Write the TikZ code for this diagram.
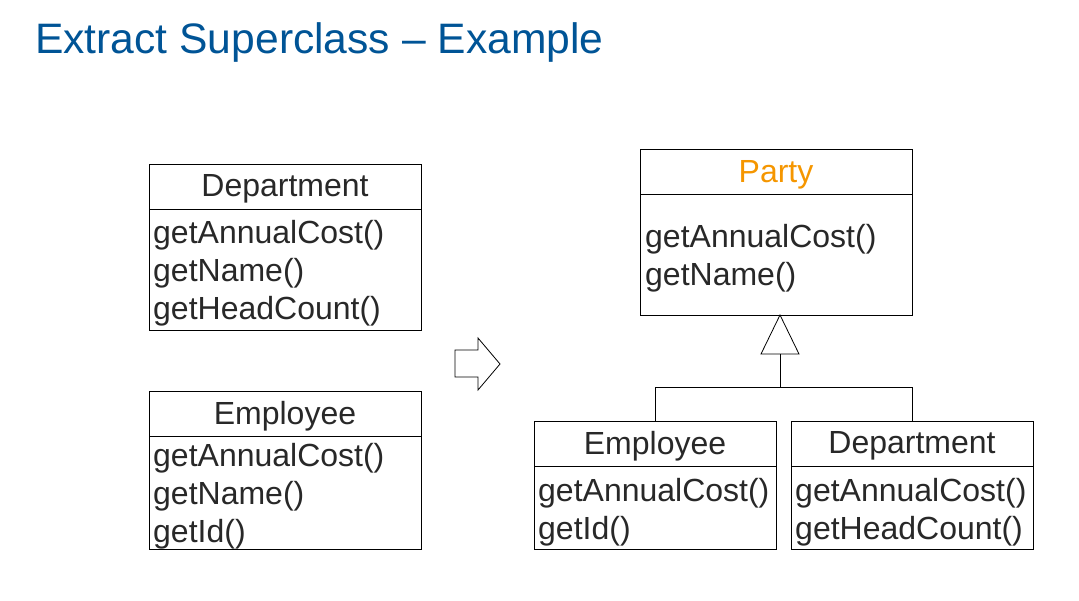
\documentclass[tikz,border=0pt]{standalone}
\usepackage{fontspec}
\setmainfont{Liberation Sans}
\definecolor{titleblue}{RGB}{0,84,150}
\definecolor{partyor}{RGB}{245,150,0}
\definecolor{txt}{RGB}{40,40,40}
\begin{document}
\begin{tikzpicture}[x=1pt,y=-1pt,
  box/.style={draw=black,line width=0.8pt},
  lbl/.style={anchor=west,inner sep=0,text=txt,font=\fontsize{32}{32}\selectfont},
  hdr/.style={inner sep=0,text=txt,font=\fontsize{32}{32}\selectfont},
  ln/.style={draw=black,line width=0.8pt}]
\useasboundingbox (0,0) rectangle (1079,600);
\node[anchor=base west,inner sep=0,text=titleblue,font=\fontsize{42.6}{42.6}\selectfont] (title) at (35,53) {Extract Superclass – Example};
% left Department
\draw[box] (149,164) rectangle (421,330); \draw[ln] (149,209)--(421,209);
\node[hdr] (ld) at (285,189) {Department};
\node[lbl] (ld1) at (153,235) {getAnnualCost()};
\node[lbl] (ld2) at (153,273) {getName()};
\node[lbl] (ld3) at (153,311) {getHeadCount()};
% left Employee
\draw[box] (149,391) rectangle (421,549); \draw[ln] (149,436)--(421,436);
\node[hdr] (le) at (285,416) {Employee};
\node[lbl] (le1) at (153,458) {getAnnualCost()};
\node[lbl] (le2) at (153,496) {getName()};
\node[lbl] (le3) at (153,534) {getId()};
% arrow
\draw[line width=0.8pt] (455,350)--(478,350)--(478,338)--(500,364)--(478,390)--(478,377)--(455,377)--cycle;
% Party
\draw[box] (640,149) rectangle (912,315); \draw[ln] (640,194)--(912,194);
\node[hdr,text=partyor] (p) at (776,175) {Party};
\node[lbl] (p1) at (645,239) {getAnnualCost()};
\node[lbl] (p2) at (645,277) {getName()};
% inheritance
\coordinate (apex) at (780,315);
\coordinate (base) at (780,354);
\draw[ln] (apex)--(799,354)--(761,354)--cycle;
\draw[ln] (base)--(780,387);
\draw[ln] (655,421)--(655,387)--(912,387)--(912,421);
% right Employee
\draw[box] (534,421) rectangle (776,549); \draw[ln] (534,466)--(776,466);
\node[hdr] (re) at (655,446) {Employee};
\node[lbl] (re1) at (538,493) {getAnnualCost()};
\node[lbl] (re2) at (538,531) {getId()};
% right Department
\draw[box] (791,421) rectangle (1033,549); \draw[ln] (791,466)--(1033,466);
\node[hdr] (rd) at (912,446) {Department};
\node[lbl] (rd1) at (795,493) {getAnnualCost()};
\node[lbl] (rd2) at (795,531) {getHeadCount()};
\end{tikzpicture}
\end{document}
